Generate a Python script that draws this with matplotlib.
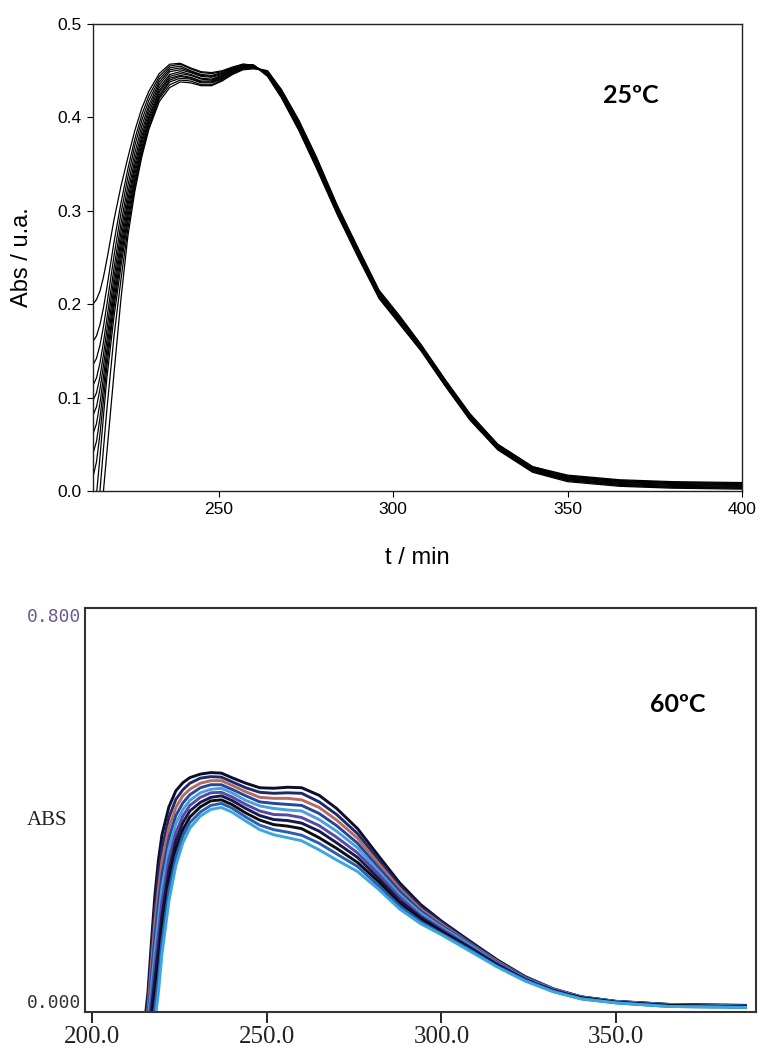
import numpy as np
import matplotlib.pyplot as plt
from matplotlib.ticker import FormatStrFormatter

# ---- upper panel (25 ºC): black spectra ----
wl_25 = [214, 215, 216, 217, 218, 220, 222, 224, 226, 228, 230, 233, 236, 239,
         242, 245, 248, 251, 254, 257, 260, 264, 268, 273, 278, 284, 290, 296,
         302, 308, 315, 322, 330, 340, 350, 365, 380, 400]

abs_25 = [
    [0.200, 0.205, 0.214, 0.229, 0.248, 0.290, 0.326, 0.357, 0.386, 0.410, 0.428, 0.447, 0.457, 0.458,
     0.453, 0.449, 0.448, 0.450, 0.454, 0.457, 0.456, 0.444, 0.421, 0.386, 0.346, 0.296, 0.250, 0.206,
     0.178, 0.150, 0.112, 0.076, 0.044, 0.020, 0.010, 0.005, 0.003, 0.002],
    [0.160, 0.166, 0.178, 0.196, 0.218, 0.266, 0.308, 0.345, 0.377, 0.403, 0.423, 0.444, 0.455, 0.457,
     0.452, 0.448, 0.447, 0.449, 0.453, 0.457, 0.456, 0.445, 0.422, 0.387, 0.347, 0.297, 0.251, 0.207,
     0.179, 0.151, 0.113, 0.077, 0.045, 0.021, 0.011, 0.006, 0.004, 0.003],
    [0.135, 0.142, 0.156, 0.176, 0.200, 0.251, 0.297, 0.336, 0.370, 0.397, 0.418, 0.441, 0.453, 0.455,
     0.450, 0.446, 0.445, 0.448, 0.452, 0.456, 0.456, 0.446, 0.423, 0.388, 0.348, 0.298, 0.252, 0.208,
     0.180, 0.151, 0.113, 0.077, 0.045, 0.021, 0.012, 0.006, 0.004, 0.003],
    [0.113, 0.121, 0.137, 0.159, 0.185, 0.238, 0.286, 0.327, 0.362, 0.391, 0.413, 0.438, 0.451, 0.453,
     0.449, 0.445, 0.444, 0.447, 0.452, 0.456, 0.456, 0.446, 0.424, 0.389, 0.350, 0.299, 0.253, 0.209,
     0.181, 0.152, 0.114, 0.078, 0.046, 0.022, 0.012, 0.007, 0.005, 0.004],
    [0.097, 0.105, 0.122, 0.146, 0.173, 0.228, 0.277, 0.319, 0.355, 0.385, 0.409, 0.435, 0.449, 0.451,
     0.448, 0.444, 0.443, 0.446, 0.451, 0.455, 0.455, 0.447, 0.425, 0.390, 0.351, 0.300, 0.254, 0.210,
     0.182, 0.153, 0.115, 0.079, 0.047, 0.023, 0.013, 0.008, 0.006, 0.005],
    [0.081, 0.090, 0.109, 0.134, 0.162, 0.219, 0.269, 0.312, 0.349, 0.380, 0.405, 0.432, 0.446, 0.449,
     0.446, 0.442, 0.441, 0.445, 0.450, 0.455, 0.455, 0.447, 0.425, 0.391, 0.352, 0.301, 0.255, 0.210,
     0.182, 0.153, 0.115, 0.079, 0.047, 0.023, 0.013, 0.008, 0.006, 0.005],
    [0.061, 0.072, 0.094, 0.122, 0.152, 0.211, 0.262, 0.306, 0.344, 0.376, 0.401, 0.429, 0.444, 0.447,
     0.445, 0.441, 0.440, 0.444, 0.450, 0.454, 0.455, 0.448, 0.426, 0.392, 0.353, 0.302, 0.256, 0.211,
     0.183, 0.154, 0.116, 0.080, 0.048, 0.024, 0.014, 0.009, 0.007, 0.006],
    [0.040, 0.053, 0.078, 0.110, 0.143, 0.203, 0.255, 0.300, 0.339, 0.372, 0.398, 0.427, 0.442, 0.445,
     0.443, 0.439, 0.439, 0.443, 0.449, 0.454, 0.454, 0.448, 0.427, 0.393, 0.354, 0.303, 0.257, 0.212,
     0.184, 0.155, 0.117, 0.081, 0.048, 0.024, 0.015, 0.010, 0.008, 0.007],
    [0.015, 0.031, 0.061, 0.097, 0.134, 0.196, 0.248, 0.294, 0.334, 0.368, 0.395, 0.424, 0.440, 0.444,
     0.442, 0.438, 0.438, 0.442, 0.448, 0.453, 0.454, 0.449, 0.428, 0.394, 0.355, 0.304, 0.258, 0.213,
     0.185, 0.155, 0.117, 0.081, 0.049, 0.025, 0.015, 0.010, 0.008, 0.007],
    [-0.030, -0.004, 0.036, 0.080, 0.122, 0.186, 0.240, 0.288, 0.330, 0.364, 0.392, 0.422, 0.438, 0.442,
     0.441, 0.437, 0.437, 0.441, 0.448, 0.453, 0.453, 0.449, 0.428, 0.395, 0.356, 0.304, 0.258, 0.213,
     0.185, 0.156, 0.118, 0.082, 0.049, 0.025, 0.016, 0.011, 0.009, 0.008],
    [-0.070, -0.040, 0.000, 0.045, 0.088, 0.165, 0.226, 0.281, 0.325, 0.361, 0.389, 0.420, 0.435, 0.440,
     0.439, 0.435, 0.435, 0.440, 0.447, 0.452, 0.453, 0.450, 0.429, 0.396, 0.357, 0.305, 0.259, 0.214,
     0.186, 0.156, 0.118, 0.082, 0.050, 0.026, 0.016, 0.011, 0.009, 0.008],
    [-0.120, -0.090, -0.045, 0.000, 0.042, 0.125, 0.205, 0.273, 0.321, 0.358, 0.387, 0.417, 0.432, 0.438,
     0.437, 0.434, 0.434, 0.439, 0.446, 0.451, 0.452, 0.450, 0.430, 0.397, 0.358, 0.306, 0.260, 0.215,
     0.187, 0.157, 0.119, 0.083, 0.050, 0.026, 0.017, 0.012, 0.010, 0.009],
]

# ---- lower panel (60 ºC): coloured instrument trace ----
wl_60 = [214, 215, 216, 217, 218, 219, 220, 222, 224, 226, 228, 231, 234, 237,
         240, 244, 248, 252, 256, 260, 265, 270, 276, 282, 288, 294, 300, 308,
         316, 324, 332, 340, 350, 365, 387]

abs_60 = [
    [-0.075, -0.025, 0.038, 0.138, 0.231, 0.300, 0.350, 0.406, 0.438, 0.454, 0.464, 0.471, 0.474, 0.473,
     0.464, 0.453, 0.444, 0.443, 0.445, 0.444, 0.429, 0.403, 0.363, 0.309, 0.256, 0.213, 0.180, 0.141,
     0.103, 0.070, 0.046, 0.030, 0.021, 0.015, 0.013],
    [-0.088, -0.039, 0.021, 0.115, 0.204, 0.271, 0.324, 0.385, 0.421, 0.440, 0.453, 0.463, 0.466, 0.465,
     0.456, 0.444, 0.435, 0.433, 0.434, 0.433, 0.416, 0.391, 0.353, 0.301, 0.250, 0.209, 0.178, 0.139,
     0.101, 0.069, 0.045, 0.030, 0.021, 0.015, 0.013],
    [-0.100, -0.053, 0.005, 0.093, 0.176, 0.241, 0.298, 0.365, 0.405, 0.428, 0.441, 0.453, 0.458, 0.458,
     0.449, 0.436, 0.425, 0.423, 0.423, 0.420, 0.405, 0.380, 0.344, 0.294, 0.245, 0.204, 0.174, 0.136,
     0.100, 0.068, 0.045, 0.029, 0.020, 0.014, 0.011],
    [-0.113, -0.066, -0.010, 0.071, 0.148, 0.213, 0.271, 0.344, 0.389, 0.414, 0.430, 0.444, 0.450, 0.450,
     0.441, 0.428, 0.416, 0.413, 0.411, 0.409, 0.393, 0.369, 0.334, 0.286, 0.239, 0.200, 0.171, 0.135,
     0.098, 0.068, 0.044, 0.029, 0.020, 0.014, 0.011],
    [-0.125, -0.080, -0.026, 0.049, 0.120, 0.184, 0.245, 0.323, 0.373, 0.401, 0.419, 0.434, 0.441, 0.443,
     0.434, 0.419, 0.408, 0.403, 0.400, 0.398, 0.381, 0.358, 0.325, 0.279, 0.233, 0.196, 0.168, 0.133,
     0.096, 0.066, 0.044, 0.029, 0.020, 0.014, 0.011],
    [-0.138, -0.095, -0.043, 0.026, 0.093, 0.154, 0.218, 0.303, 0.355, 0.388, 0.409, 0.425, 0.434, 0.435,
     0.426, 0.411, 0.398, 0.391, 0.390, 0.385, 0.369, 0.346, 0.315, 0.273, 0.228, 0.191, 0.165, 0.130,
     0.095, 0.065, 0.043, 0.028, 0.019, 0.013, 0.010],
    [-0.150, -0.109, -0.059, 0.004, 0.065, 0.125, 0.191, 0.281, 0.339, 0.375, 0.398, 0.415, 0.425, 0.428,
     0.419, 0.403, 0.389, 0.381, 0.379, 0.374, 0.358, 0.335, 0.306, 0.265, 0.221, 0.188, 0.161, 0.128,
     0.094, 0.064, 0.043, 0.028, 0.019, 0.013, 0.010],
    [-0.163, -0.123, -0.074, -0.018, 0.036, 0.096, 0.165, 0.260, 0.323, 0.361, 0.386, 0.406, 0.418, 0.420,
     0.411, 0.394, 0.380, 0.371, 0.368, 0.363, 0.345, 0.324, 0.296, 0.258, 0.215, 0.184, 0.159, 0.126,
     0.091, 0.064, 0.041, 0.028, 0.019, 0.013, 0.010],
    [-0.175, -0.136, -0.090, -0.040, 0.009, 0.066, 0.139, 0.240, 0.306, 0.349, 0.375, 0.396, 0.409, 0.413,
     0.404, 0.386, 0.370, 0.361, 0.356, 0.350, 0.334, 0.313, 0.288, 0.250, 0.210, 0.179, 0.155, 0.124,
     0.090, 0.063, 0.041, 0.026, 0.018, 0.011, 0.009],
    [-0.188, -0.150, -0.106, -0.063, -0.019, 0.038, 0.113, 0.219, 0.290, 0.335, 0.364, 0.388, 0.401, 0.405,
     0.396, 0.378, 0.361, 0.351, 0.345, 0.339, 0.321, 0.301, 0.278, 0.243, 0.204, 0.175, 0.153, 0.121,
     0.089, 0.061, 0.040, 0.026, 0.018, 0.011, 0.009],
]

colors_60 = ['#0d0d2a', '#1c2a6e', '#b86a5c', '#24469c', '#4aa0d8',
             '#5a48a8', '#141a50', '#0d0d0d', '#2c5cb4', '#3aa8e0']

x_ticks_25 = [250, 300, 350, 400]
y_ticks_25 = [0.0, 0.1, 0.2, 0.3, 0.4, 0.5]
x_ticks_60 = [200, 250, 300, 350]
x_labels_60 = ['200.0', '250.0', '300.0', '350.0']
y_ticks_60 = [0.0, 0.8]
y_labels_60 = ['0.000', '0.800']

plt.rcParams['font.family'] = ['Liberation Sans', 'DejaVu Sans']

fig = plt.figure(figsize=(7.59, 10.5), dpi=100)

# upper panel
ax1 = fig.add_axes([0.1225, 0.5324, 0.8551, 0.4447])
for row in abs_25:
    ax1.plot(wl_25, row, color='black', lw=0.9)
ax1.set_xlim(214, 400)
ax1.set_ylim(0, 0.5)
ax1.set_xticks(x_ticks_25)
ax1.set_yticks(y_ticks_25)
ax1.yaxis.set_major_formatter(FormatStrFormatter('%.1f'))
ax1.tick_params(direction='out', length=4, width=0.8, labelsize=12.5, pad=4)
for sp in ax1.spines.values():
    sp.set_linewidth(1.0)
    sp.set_color('#222222')
ax1.set_xlabel('t / min', fontsize=17)
ax1.set_ylabel('Abs / u.a.', fontsize=17)
ax1.xaxis.set_label_coords(0.5, -0.1435)
ax1.xaxis.label.set_va('center')
ax1.yaxis.set_label_coords(-0.109, 0.5)
ax1.yaxis.label.set_va('center')
ax1.text(0.829, 0.846, '25ºC', transform=ax1.transAxes, ha='center', va='center',
         fontsize=18, fontweight='bold', family=['Lato', 'DejaVu Sans'])

# lower panel
ax2 = fig.add_axes([0.112, 0.0362, 0.884, 0.3848])
for row, c in zip(abs_60, colors_60):
    ax2.plot(wl_60, row, color=c, lw=2.1)
ax2.set_xlim(198, 390)
ax2.set_ylim(0, 0.8)
ax2.set_xticks(x_ticks_60, x_labels_60, family=['Liberation Serif', 'DejaVu Serif'],
               fontsize=18, color='#222222')
ax2.set_yticks(y_ticks_60, y_labels_60, family=['DejaVu Sans Mono'], fontsize=13)
ax2.tick_params(axis='x', direction='out', length=8, width=1.2, pad=2)
ax2.tick_params(axis='y', length=0, pad=3)
ylab = ax2.get_yticklabels()
ylab[0].set_va('bottom')
ylab[0].set_color('#333333')
ylab[1].set_va('top')
ylab[1].set_color('#6a5d8c')
for sp in ax2.spines.values():
    sp.set_linewidth(1.5)
    sp.set_color('#333333')
ax2.set_ylabel('ABS', rotation=0, fontsize=15, family=['Liberation Serif', 'DejaVu Serif'],
               color='#222222')
ax2.yaxis.set_label_coords(-0.0566, 0.475)
ax2.yaxis.label.set_va('center')
ax2.yaxis.label.set_ha('center')
ax2.text(0.884, 0.762, '60ºC', transform=ax2.transAxes, ha='center', va='center',
         fontsize=18, fontweight='bold', family=['Lato', 'DejaVu Sans'])

fig.savefig('out.png', dpi=100)
